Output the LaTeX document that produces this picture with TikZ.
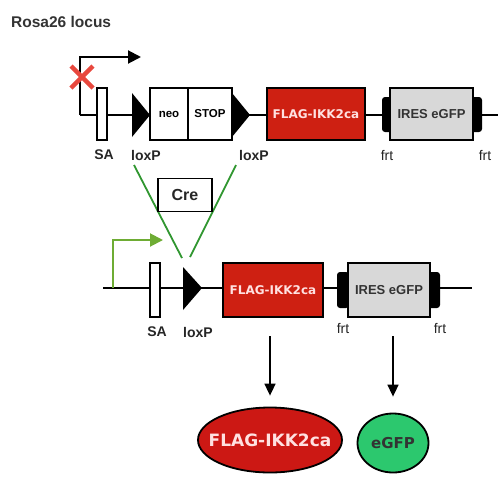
\documentclass[tikz,border=0pt]{standalone}
\usepackage{fontspec}
\setmainfont{Liberation Sans}
\newfontfamily\comicf{DejaVu Sans}
\usetikzlibrary{arrows.meta,calc,shapes.geometric}
\definecolor{boxred}{RGB}{206,32,18}
\definecolor{ovred}{RGB}{204,24,20}
\definecolor{lgray}{RGB}{216,216,216}
\definecolor{gfpgreen}{RGB}{44,200,110}
\definecolor{creline}{RGB}{48,150,48}
\definecolor{promgreen}{RGB}{110,172,52}
\definecolor{xred}{RGB}{232,72,62}
\definecolor{ltxt}{RGB}{255,225,225}
\tikzset{
  dna/.style={line width=2pt},
  sabox/.style={draw, line width=1.6pt, fill=white, minimum width=10pt, minimum height=52pt, inner sep=0pt},
  cass/.style={draw, line width=1.8pt, fill=white, minimum height=52pt, inner sep=0pt, font=\bfseries\fontsize{11.5}{12}\selectfont},
  redbox/.style={draw, line width=1.8pt, fill=boxred, minimum height=52pt, inner sep=0pt, text=ltxt, font=\comicf\bfseries\fontsize{12}{13}\selectfont},
  graybox/.style={draw, line width=1.8pt, fill=lgray, minimum height=52pt, inner sep=0pt, font=\bfseries\fontsize{13}{14}\selectfont, text=black!80},
  frt/.style={fill=black, rounded corners=3pt, minimum width=12pt, minimum height=35pt, inner sep=0pt},
  lbl/.style={font=\bfseries\fontsize{14}{15}\selectfont, inner sep=0pt, text=black!85},
  lox/.style={fill=black},
  prodarrow/.style={line width=1.6pt, -{Triangle[length=12pt,width=11pt]}},
  product/.style={ellipse, draw, line width=1.8pt, inner sep=0pt},
}
\begin{document}
\begin{tikzpicture}[x=1pt,y=-1pt]
\useasboundingbox (0,0) rectangle (500,480);
% title
\node[anchor=west, font=\bfseries\fontsize{15.5}{16}\selectfont, text=black!80, inner sep=0pt] (title) at (11,22) {Rosa26 locus};

% ---------------- top row ----------------
\coordinate (L1s) at (80,115);
\coordinate (L1e) at (498,115);
\draw[dna] (L1s) -- (L1e);
\coordinate (P1c) at (80,57);
\coordinate (P1e) at (141,57);
\draw[dna, -{Triangle[length=13pt,width=13pt]}] (L1s) -- (P1c) -- (P1e);
% red X
\coordinate (X1) at (82,77);
\draw[xred, line width=4.5pt] ($(X1)+(-11,-11)$) -- ($(X1)+(11,11)$);
\draw[xred, line width=4.5pt] ($(X1)+(-11,11)$) -- ($(X1)+(11,-11)$);

\node[sabox] (SA1) at (102,114) {};
\fill[lox] (132,93) -- (150,115) -- (132,137) -- cycle;
\node[cass, minimum width=38pt] (neo) at (169,114) {neo};
\node[cass, minimum width=44pt] (stop) at (210,114) {STOP};
\fill[lox] (232,93) -- (250,115) -- (232,137) -- cycle;
\node[redbox, minimum width=98pt] (flag1) at (316,114) {FLAG-IKK2ca};
\node[frt] (frt1a) at (388,114.5) {};
\node[frt] (frt1b) at (476,114.5) {};
\node[graybox, minimum width=83pt] (ires1) at (431.5,114) {IRES eGFP};

\node[lbl] (saL1) at (104,155) {SA};
\node[lbl] (loxL1) at (146,155) {loxP};
\node[lbl] (loxL2) at (254,155) {loxP};
\node[lbl, font=\fontsize{14}{15}\selectfont] (frtL1) at (387,155) {frt};
\node[lbl, font=\fontsize{14}{15}\selectfont] (frtL2) at (485,155) {frt};

% ---------------- Cre excision ----------------
\coordinate (C1a) at (134,165);
\coordinate (C1b) at (182,258);
\coordinate (C2a) at (236,165);
\coordinate (C2b) at (190,257);
\draw[creline, line width=1.8pt] (C1a) -- (C1b);
\draw[creline, line width=1.8pt] (C2a) -- (C2b);
\node[draw, line width=1.4pt, fill=white, minimum width=54pt, minimum height=33pt, inner sep=0pt, font=\bfseries\fontsize{16}{17}\selectfont, text=black!85] (cre) at (185,195) {Cre};

% ---------------- bottom row ----------------
\coordinate (L2s) at (103,288);
\coordinate (L2e) at (472,288);
\draw[dna] (L2s) -- (L2e);
\coordinate (P2s) at (113,288);
\coordinate (P2c) at (113,240);
\coordinate (P2e) at (163,240);
\draw[promgreen, line width=2pt, -{Triangle[length=13pt,width=13pt]}] (P2s) -- (P2c) -- (P2e);

\node[sabox, minimum height=54pt] (SA2) at (155,290) {};
\fill[lox] (183,267) -- (202,288) -- (183,310) -- cycle;
\node[redbox, minimum width=100pt, minimum height=54pt] (flag2) at (273,290) {FLAG-IKK2ca};
\node[frt, minimum height=36pt] (frt2a) at (343,290) {};
\node[frt, minimum height=36pt] (frt2b) at (434,290) {};
\node[graybox, minimum width=82pt, minimum height=54pt] (ires2) at (389,290) {IRES eGFP};

\node[lbl] (saL2) at (157,332) {SA};
\node[lbl] (loxL3) at (198,332) {loxP};
\node[lbl, font=\fontsize{14}{15}\selectfont] (frtL3) at (343,328) {frt};
\node[lbl, font=\fontsize{14}{15}\selectfont] (frtL4) at (440,328) {frt};

% ---------------- products ----------------
\node[product, fill=ovred, minimum width=144pt, minimum height=65pt, text=ltxt, font=\comicf\bfseries\fontsize{17}{18}\selectfont] (prot) at (270,440) {\makebox[0pt]{FLAG-IKK2ca}};
\node[product, fill=gfpgreen, minimum width=71pt, minimum height=59pt, text=black!80, font=\comicf\bfseries\fontsize{15}{16}\selectfont] (gfp) at (393,443) {\makebox[0pt]{eGFP}};

\coordinate (A1s) at (270,336);
\coordinate (A2s) at (393,336);
\draw[prodarrow] (A1s) -- ($(prot.north)+(0,-11)$);
\draw[prodarrow] (A2s) -- ($(gfp.north)+(0,-16)$);
\end{tikzpicture}
\end{document}
